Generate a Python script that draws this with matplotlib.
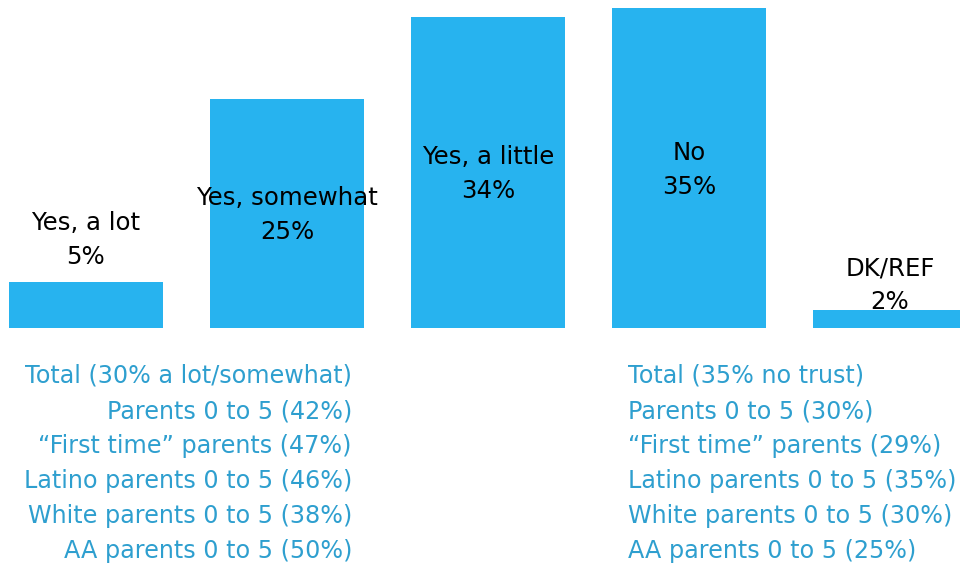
import matplotlib.pyplot as plt

# survey answers and shares
categories = ["Yes, a lot", "Yes, somewhat", "Yes, a little", "No", "DK/REF"]
values = [5, 25, 34, 35, 2]

left_lines = [
    "Total (30% a lot/somewhat)",
    "Parents 0 to 5 (42%)",
    "\u201cFirst time\u201d parents (47%)",
    "Latino parents 0 to 5 (46%)",
    "White parents 0 to 5 (38%)",
    "AA parents 0 to 5 (50%)",
]
right_lines = [
    "Total (35% no trust)",
    "Parents 0 to 5 (30%)",
    "\u201cFirst time\u201d parents (29%)",
    "Latino parents 0 to 5 (35%)",
    "White parents 0 to 5 (30%)",
    "AA parents 0 to 5 (25%)",
]

bar_color = "#27B3EF"
note_color = "#2E9FCF"
plt.rcParams['font.family'] = ['DejaVu Sans']

W, H = 960, 566
fig = plt.figure(figsize=(W / 100, H / 100), dpi=100)
# bars sit on y=328 px, 35% reaches y=8 px
ax = fig.add_axes([0, 1 - 328 / H, 1, 320 / H])
ax.set_xlim(-86 / 201, (960 - 86) / 201)
ax.set_ylim(0, 35)
ax.axis("off")

x = list(range(len(categories)))
ax.bar(x, values, width=154 / 201, color=bar_color)

# y (px from top) of the category line of each label
label_y = [223, 198, 157, 153, 268]
for xi, cat, v, ly in zip(x, categories, values, label_y):
    fx = (86 + 201 * xi) / W
    fig.text(fx, 1 - ly / H, cat, fontsize=17.6, color="black",
             ha="center", va="center")
    fig.text(fx, 1 - (ly + 34) / H, f"{v}%", fontsize=17.6, color="black",
             ha="center", va="center")

for i, line in enumerate(left_lines):
    fig.text(352 / W, 1 - (376 + 35 * i) / H, line, fontsize=17.2,
             color=note_color, ha="right", va="center")
for i, line in enumerate(right_lines):
    fig.text(628 / W, 1 - (376 + 35 * i) / H, line, fontsize=17.2,
             color=note_color, ha="left", va="center")

fig.savefig("out.png", dpi=100, facecolor="white")
